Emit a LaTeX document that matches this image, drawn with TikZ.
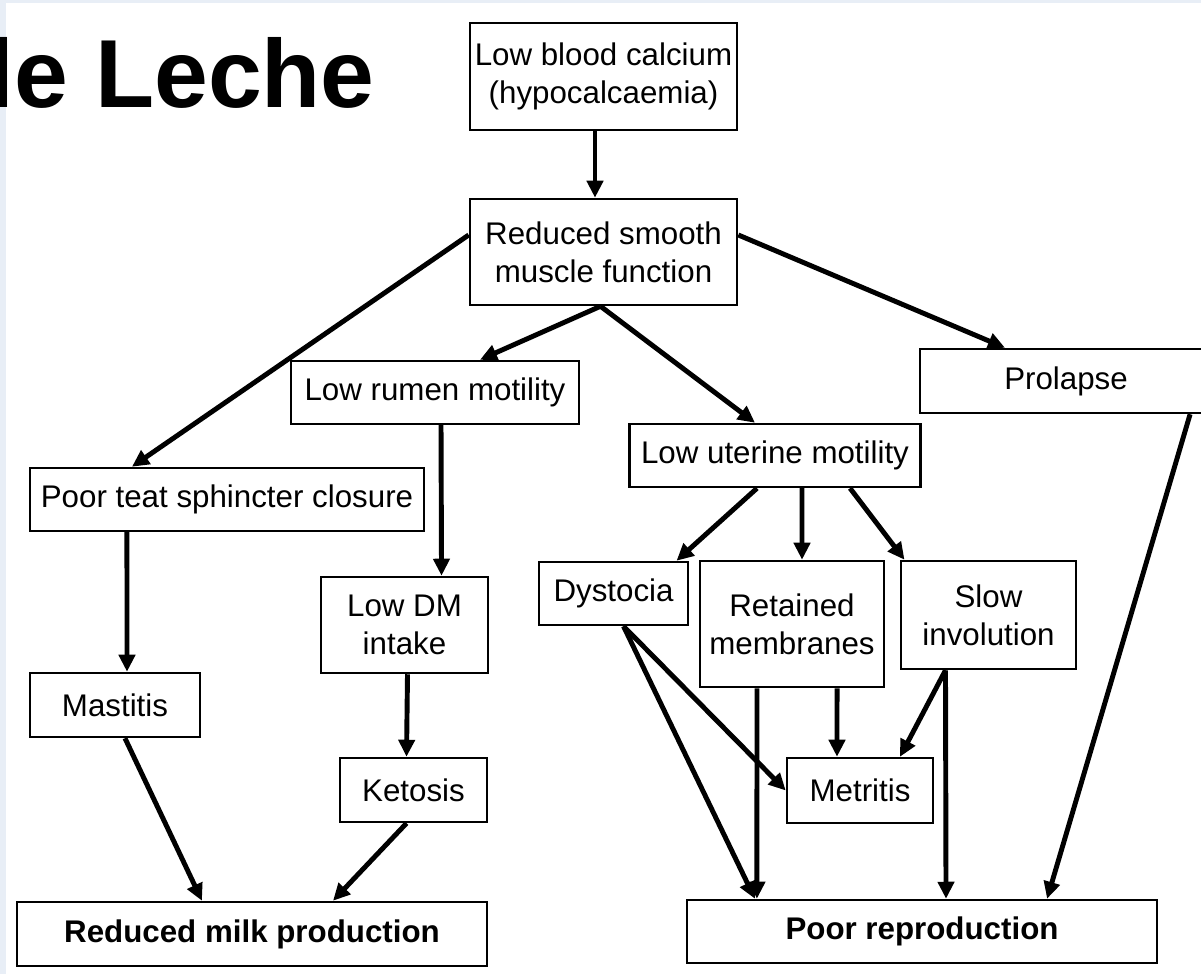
\documentclass[tikz,border=0pt]{standalone}
\usepackage{fontspec}
\setmainfont{Liberation Sans}
\usepackage{tikz}
\usetikzlibrary{arrows.meta}
\definecolor{slide}{RGB}{232,238,246}

\begin{document}
\begin{tikzpicture}[x=0.01cm, y=-0.01cm,
    box/.style={draw, line width=0.7pt, inner sep=0pt, align=center,
      font=\fontsize{8.9}{10.9}\selectfont},
    boldbox/.style={box, font=\fontsize{8.9}{10.9}\selectfont\bfseries},
    arr/.style={line width=1.4pt, -{Triangle[length=0.17cm, width=0.16cm]}}]
  \useasboundingbox (0,0) rectangle (1201,974);
  \fill[slide] (0,0) rectangle (6,974);
  \fill[slide] (0,0) rectangle (1201,3);

  % Title
  \node[anchor=base west, inner sep=0pt, font=\fontsize{27.5}{30}\selectfont\bfseries] (title) at (-13,108) {le Leche};

  % Boxes
  \node[box, minimum width=2.67cm, minimum height=1.07cm] (calc) at (603.5,76.5) {Low blood calcium\\(hypocalcaemia)};
  \node[box, minimum width=2.67cm, minimum height=1.06cm] (reduce) at (603.5,252) {Reduced smooth\\muscle function};
  \node[box, minimum width=2.88cm, minimum height=0.63cm] (rumen) at (435,392.5) {Low rumen motility};
  \node[box, minimum width=2.92cm, minimum height=0.64cm] (prolapse) at (1066,381) {Prolapse};
  \node[box, minimum width=2.91cm, minimum height=0.63cm] (uterine) at (775,455.5) {Low uterine motility};
  \node[box, minimum width=3.94cm, minimum height=0.63cm] (teat) at (227,499.5) {Poor teat sphincter closure};
  \node[box, minimum width=1.67cm, minimum height=0.96cm] (dm) at (404.5,625) {Low DM\\intake};
  \node[box, minimum width=1.49cm, minimum height=0.63cm] (dystocia) at (613.5,593.5) {Dystocia};
  \node[box, minimum width=1.84cm, minimum height=1.26cm] (retained) at (792,624) {Retained\\membranes};
  \node[box, minimum width=1.75cm, minimum height=1.08cm] (slow) at (988.5,615) {Slow\\involution};
  \node[box, minimum width=1.70cm, minimum height=0.64cm] (mastitis) at (115,705) {Mastitis};
  \node[box, minimum width=1.47cm, minimum height=0.64cm] (ketosis) at (413.5,790) {Ketosis};
  \node[box, minimum width=1.46cm, minimum height=0.65cm] (metritis) at (860,790.5) {Metritis};
  \node[boldbox, minimum width=4.70cm, minimum height=0.64cm] (milk) at (252,934) {Reduced milk production};
  \node[boldbox, minimum width=4.70cm, minimum height=0.63cm] (repro) at (922,931.5) {Poor reproduction};

  % Arrows from the top
  \draw[arr] ([xshift=-0.085cm]calc.south) -- ([xshift=-0.085cm]reduce.north);
  \draw[arr] ([yshift=0.17cm]reduce.west) -- ([xshift=-0.95cm]teat.north);
  \draw[arr] ([yshift=0.17cm]reduce.east) -- ([xshift=-0.61cm]prolapse.north);
  \draw[arr] ([xshift=-0.03cm]reduce.south) -- ([xshift=0.45cm]rumen.north);
  \draw[arr] ([xshift=-0.03cm]reduce.south) -- ([xshift=-0.20cm]uterine.north);

  % Milk side
  \draw[arr] ([xshift=0.06cm]rumen.south) -- ([xshift=0.37cm]dm.north);
  \draw[arr] ([xshift=-1.00cm]teat.south) -- ([xshift=0.12cm]mastitis.north);
  \draw[arr] ([xshift=0.03cm]dm.south) -- ([xshift=-0.07cm]ketosis.north);
  \draw[arr] ([xshift=0.10cm]mastitis.south) -- ([xshift=-0.50cm]milk.north);
  \draw[arr] ([xshift=-0.07cm]ketosis.south) -- ([xshift=0.81cm]milk.north);

  % Reproduction side
  \draw[arr] ([xshift=-0.18cm]uterine.south) -- ([xshift=0.63cm]dystocia.north);
  \draw[arr] ([xshift=0.27cm]uterine.south) -- ([xshift=0.10cm]retained.north);
  \draw[arr] ([xshift=0.75cm]uterine.south) -- ([xshift=-0.84cm]slow.north);
  \draw[arr] ([xshift=0.10cm]dystocia.south) -- (metritis.west);
  \draw[arr] ([xshift=0.10cm]dystocia.south) -- ([xshift=-1.67cm]repro.north);
  \draw[arr] ([xshift=-0.35cm]retained.south) -- ([xshift=-1.65cm]repro.north);
  \draw[arr] ([xshift=0.45cm]retained.south) -- ([xshift=-0.23cm]metritis.north);
  \draw[arr] ([xshift=-0.43cm]slow.south) -- ([xshift=0.40cm]metritis.north);
  \draw[arr] ([xshift=-0.43cm]slow.south) -- ([xshift=0.24cm]repro.north);
  \draw[arr] ([xshift=1.24cm]prolapse.south) -- ([xshift=1.25cm]repro.north);
\end{tikzpicture}
\end{document}
